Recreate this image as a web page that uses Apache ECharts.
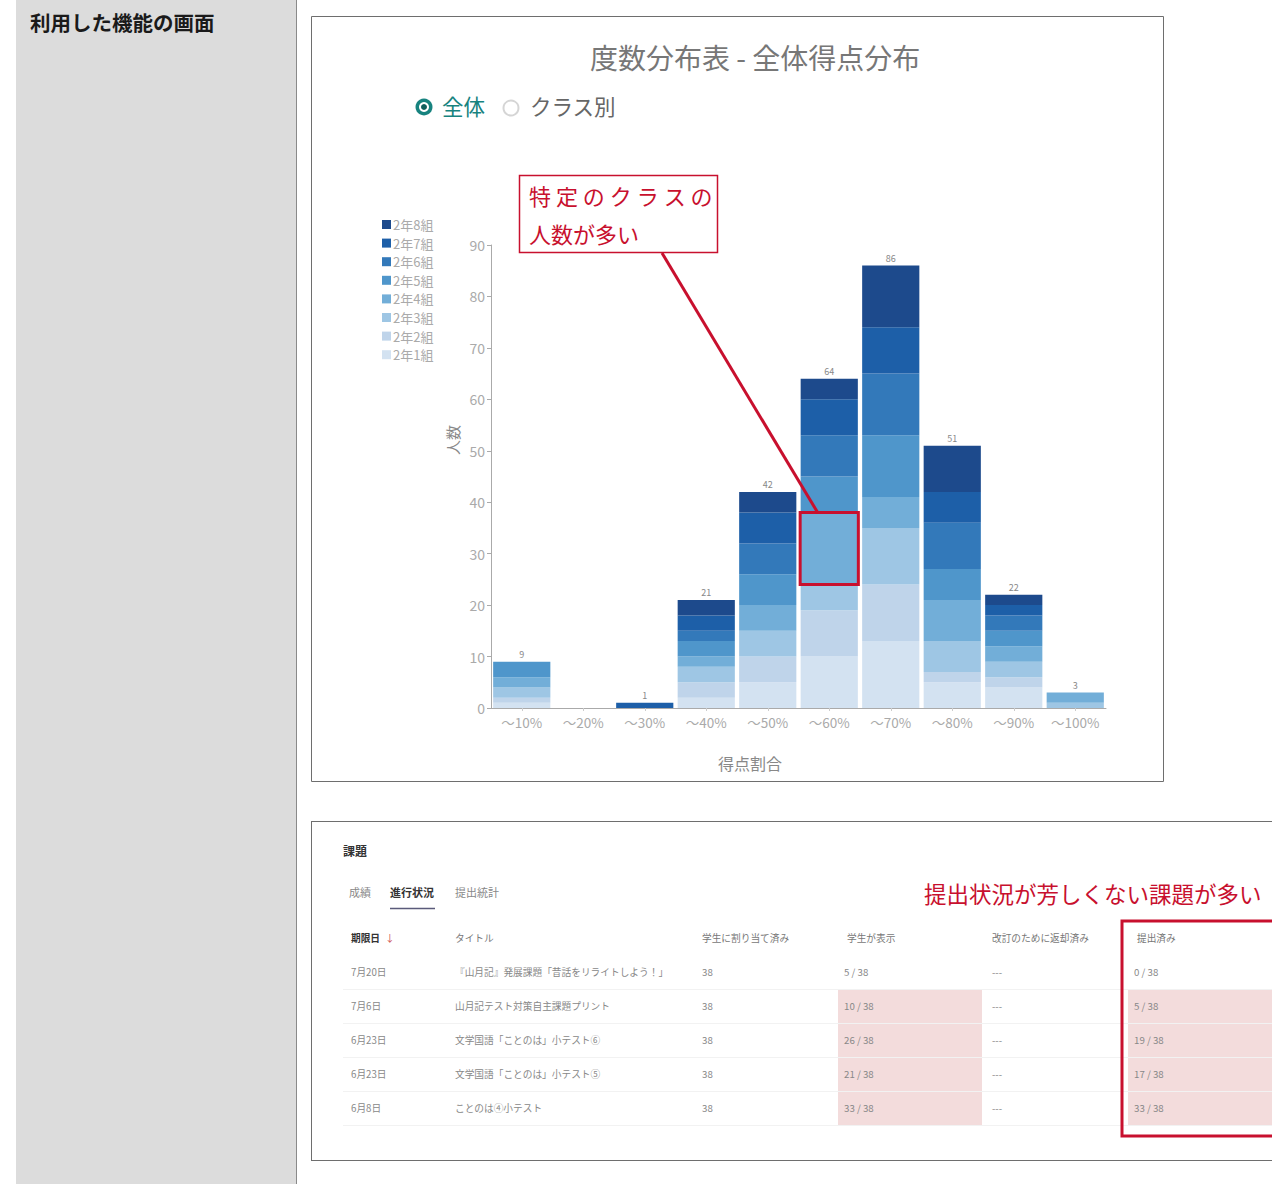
<!DOCTYPE html>
<html>
<head>
<meta charset="utf-8">
<script src="https://cdn.jsdelivr.net/npm/echarts@6/dist/echarts.min.js"></script>
<style>
html,body{margin:0;padding:0;background:#fff;}
#main{width:1272px;height:1184px;}
</style>
</head>
<body>
<div id="main"></div>
<script>
// ---------- chart data ----------
const categories = ['～10%','～20%','～30%','～40%','～50%','～60%','～70%','～80%','～90%','～100%'];
const classNames = ['2年1組','2年2組','2年3組','2年4組','2年5組','2年6組','2年7組','2年8組'];
const class1 = [1,0,0,2,5,10,13,5,4,0];
const class2 = [1,0,0,3,5,9,11,2,2,0];
const class3 = [2,0,0,3,5,5,11,6,3,1];
const class4 = [2,0,0,2,5,14,6,8,3,2];
const class5 = [3,0,0,3,6,7,12,6,3,0];
const class6 = [0,0,0,2,6,8,12,9,3,0];
const class7 = [0,0,1,3,6,7,9,6,2,0];
const class8 = [0,0,0,3,4,4,12,9,2,0];
const classValues = [class1,class2,class3,class4,class5,class6,class7,class8];
const yTicks = [0,10,20,30,40,50,60,70,80,90];
const highlightCategory = '～60%';
const highlightClass = '2年4組';
const chartTitle = '度数分布表 - 全体得点分布';
const xAxisName = '得点割合';
const yAxisName = '人数';

// ---------- table data ----------
const tableHeaders = ['期限日','タイトル','学生に割り当て済み','学生が表示','改訂のために返却済み','提出済み'];
const dueDates = ['7月20日','7月6日','6月23日','6月23日','6月8日'];
const titles = ['『山月記』発展課題「昔話をリライトしよう！」','山月記テスト対策自主課題プリント','文学国語「ことのは」小テスト⑥','文学国語「ことのは」小テスト⑤','ことのは④小テスト'];
const assigned = [38,38,38,38,38];
const viewed = [5,10,26,21,33];
const returned = ['---','---','---','---','---'];
const submitted = [0,5,19,17,33];
const studentTotal = 38;
const tabs = ['成績','進行状況','提出統計'];

// ---------- styles ----------
const FONT = '"Noto Sans CJK JP","Noto Sans",sans-serif';
const colors = ['#d3e2f1','#bfd4ea','#9ec6e4','#72aed8','#4f96cb','#3379ba','#1d5fa8','#1d4a8c'];
const RED = '#c8102e';

const chart = echarts.init(document.getElementById('main'), null, {renderer:'svg'});

const totals = categories.map((c,i)=>classValues.reduce((s,a)=>s+a[i],0));

const series = classNames.map((name,k)=>({
  name: name,
  type: 'bar',
  stack: 'all',
  barCategoryGap: '7%',
  data: classValues[k],
  itemStyle: {color: colors[k]},
  emphasis: {disabled: true}
}));
series.push({
  name: 'total',
  type: 'bar',
  stack: 'all',
  data: totals.map(()=>0),
  itemStyle: {color: 'transparent'},
  label: {
    show: true, position: 'top', distance: 3,
    fontSize: 9, color: '#888', fontFamily: FONT,
    formatter: p => totals[p.dataIndex] > 0 ? String(totals[p.dataIndex]) : ''
  },
  silent: true
});

// table layout
const colX = [351,455,702,847,992,1137];
const rowY0 = 972, rowH = 34, headerY = 938;

function baseGraphics(){
  const g = [];
  // left column
  g.push({type:'rect', z:0, shape:{x:16,y:0,width:280,height:1184}, style:{fill:'#dcdcdc'}});
  g.push({type:'line', z:1, shape:{x1:296.5,y1:0,x2:296.5,y2:1184}, style:{stroke:'#8a8a8a',lineWidth:1}});
  g.push({type:'text', z:2, x:30, y:22, style:{text:'利用した機能の画面', font:'bold 20.5px '+FONT, fill:'#1a1a1a', textVerticalAlign:'middle'}});
  // chart frame
  g.push({type:'rect', z:0, shape:{x:311.5,y:16.5,width:852,height:765}, style:{fill:'#fff', stroke:'#6e6e6e', lineWidth:1}});
  // axis names
  g.push({type:'text', z:3, x:750, y:763, style:{text:xAxisName, font:'16px '+FONT, fill:'#888', textAlign:'center', textVerticalAlign:'middle'}});
  g.push({type:'text', z:3, x:452, y:440, rotation:Math.PI/2, style:{text:yAxisName, font:'15px '+FONT, fill:'#888', textAlign:'center', textVerticalAlign:'middle'}});
  // radio buttons
  g.push({type:'circle', z:3, shape:{cx:424,cy:107,r:8.5}, style:{fill:'#17837f'}});
  g.push({type:'circle', z:4, shape:{cx:424,cy:107,r:5}, style:{fill:'#fff'}});
  g.push({type:'circle', z:5, shape:{cx:424,cy:107,r:3}, style:{fill:'#0f5e5b'}});
  g.push({type:'text', z:3, x:442, y:105, style:{text:'全体', font:'21.5px '+FONT, fill:'#17837f', textVerticalAlign:'middle'}});
  g.push({type:'circle', z:3, shape:{cx:511,cy:108,r:7.5}, style:{fill:'#fff', stroke:'#d5d5d5', lineWidth:2}});
  g.push({type:'text', z:3, x:530, y:105, style:{text:'クラス別', font:'21.5px '+FONT, fill:'#666', textVerticalAlign:'middle'}});
  // annotation box
  g.push({type:'rect', z:100, shape:{x:519.5,y:175.5,width:198,height:77}, style:{fill:'#fff', stroke:RED, lineWidth:1.5}});
  g.push({type:'text', z:101, x:529, y:195, style:{text:'特 定 の ク ラ ス の', font:'22px '+FONT, fill:RED, textVerticalAlign:'middle'}});
  g.push({type:'text', z:101, x:529, y:233, style:{text:'人数が多い', font:'22px '+FONT, fill:RED, textVerticalAlign:'middle'}});

  // table panel
  g.push({type:'line', z:1, shape:{x1:311,y1:821.5,x2:1272,y2:821.5}, style:{stroke:'#6e6e6e',lineWidth:1}});
  g.push({type:'line', z:1, shape:{x1:311.5,y1:821,x2:311.5,y2:1160}, style:{stroke:'#6e6e6e',lineWidth:1}});
  g.push({type:'line', z:1, shape:{x1:311,y1:1160.5,x2:1272,y2:1160.5}, style:{stroke:'#6e6e6e',lineWidth:1}});
  g.push({type:'text', z:3, x:343, y:850, style:{text:'課題', font:'bold 12px '+FONT, fill:'#333', textVerticalAlign:'middle'}});
  const tabX = [349,390,455];
  tabs.forEach((t,i)=>{
    g.push({type:'text', z:3, x:tabX[i], y:892, style:{text:t, font:(i===1?'bold ':'')+'11px '+FONT, fill:i===1?'#333':'#888', textVerticalAlign:'middle'}});
  });
  g.push({type:'line', z:3, shape:{x1:390,y1:908.5,x2:435,y2:908.5}, style:{stroke:'#5a5a7a',lineWidth:1.5}});
  g.push({type:'text', z:3, x:924, y:893, style:{text:'提出状況が芳しくない課題が多い', font:'22.5px '+FONT, fill:RED, textVerticalAlign:'middle'}});

  // pink cells
  for(let r=1;r<5;r++){
    const y = rowY0 + r*rowH - rowH/2 + 1;
    g.push({type:'rect', z:2, shape:{x:838,y:y,width:144,height:rowH-1}, style:{fill:'#f3dcdc'}});
    g.push({type:'rect', z:2, shape:{x:1128,y:y,width:144,height:rowH-1}, style:{fill:'#f3dcdc'}});
  }
  // headers
  tableHeaders.forEach((h,i)=>{
    g.push({type:'text', z:3, x:colX[i], y:headerY, style:{text:h, font:(i===0?'bold ':'')+'9.7px '+FONT, fill:i===0?'#333':'#777', textVerticalAlign:'middle'}});
  });
  g.push({type:'text', z:3, x:385, y:headerY, style:{text:'↓', font:'9.7px '+FONT, fill:'#d05050', textVerticalAlign:'middle'}});
  // rows
  for(let r=0;r<5;r++){
    const y = rowY0 + r*rowH;
    const cells = [dueDates[r], titles[r], String(assigned[r]), viewed[r]+' / '+studentTotal, returned[r], submitted[r]+' / '+studentTotal];
    cells.forEach((c,i)=>{
      let x = colX[i];
      if(i===3) x = 844;
      if(i===5) x = 1134;
      g.push({type:'text', z:3, x:x, y:y, style:{text:c, font:'9.7px '+FONT, fill:'#888', textVerticalAlign:'middle'}});
    });
    g.push({type:'line', z:1, shape:{x1:343,y1:y+rowH/2+0.5,x2:1272,y2:y+rowH/2+0.5}, style:{stroke:'#f2f2f2',lineWidth:1}});
  }
  // red box around submitted column
  g.push({type:'rect', z:50, shape:{x:1122,y:921,width:160,height:215}, style:{fill:'none', stroke:RED, lineWidth:3}});
  return g;
}

const option = {
  backgroundColor: '#fff',
  animation: false,
  textStyle: {fontFamily: FONT},
  title: {
    text: chartTitle,
    left: 750, top: 38, textAlign: 'center',
    textStyle: {fontSize: 28, fontWeight: 'normal', color: '#777', fontFamily: FONT}
  },
  legend: {
    data: classNames.slice().reverse(),
    orient: 'vertical',
    left: 377, top: 213,
    itemWidth: 9, itemHeight: 9, itemGap: 5.6,
    icon: 'rect',
    selectedMode: false,
    textStyle: {fontSize: 13, color: '#aaa', lineHeight: 13, padding: [0,0,0,-3], fontFamily: FONT}
  },
  grid: {left: 491, top: 245, width: 615, height: 463, containLabel: false},
  xAxis: {
    type: 'category',
    data: categories,
    axisLine: {lineStyle: {color: '#aaa'}},
    axisTick: {show: true, alignWithLabel: true, length: 3, lineStyle: {color: '#ccc'}},
    axisLabel: {interval: 0, fontSize: 13.5, color: '#aaa', margin: 7, fontFamily: FONT}
  },
  yAxis: {
    type: 'value',
    min: yTicks[0], max: yTicks[yTicks.length-1], interval: yTicks[1]-yTicks[0],
    axisLine: {show: true, lineStyle: {color: '#aaa'}},
    axisTick: {show: true, length: 4, lineStyle: {color: '#aaa'}},
    splitLine: {show: false},
    axisLabel: {fontSize: 14, color: '#aaa', margin: 6, fontFamily: FONT}
  },
  series: series,
  graphic: baseGraphics()
};
chart.setOption(option);

// highlight rectangle around the chosen class segment, positioned through the chart's scales
const ci = categories.indexOf(highlightCategory);
const ki = classNames.indexOf(highlightClass);
let belowVal = 0;
for(let k=0;k<ki;k++) belowVal += classValues[k][ci];
const topVal = belowVal + classValues[ki][ci];
const pBottom = chart.convertToPixel({gridIndex:0}, [ci, belowVal]);
const pTop = chart.convertToPixel({gridIndex:0}, [ci, topVal]);
const pNext = chart.convertToPixel({gridIndex:0}, [ci+1, belowVal]);
const band = pNext[0] - pBottom[0];
const bw = band * 0.93;
const gfx = baseGraphics();
gfx.push({type:'rect', z:90, shape:{x:pBottom[0]-bw/2-0.5, y:pTop[1], width:bw+1, height:pBottom[1]-pTop[1]}, style:{fill:'none', stroke:RED, lineWidth:3}});
gfx.push({type:'line', z:90, shape:{x1:662, y1:253, x2:pBottom[0]-bw/2+17, y2:pTop[1]}, style:{stroke:RED, lineWidth:3}});
chart.setOption({graphic: gfx}, {replaceMerge:['graphic']});
</script>
</body>
</html>
